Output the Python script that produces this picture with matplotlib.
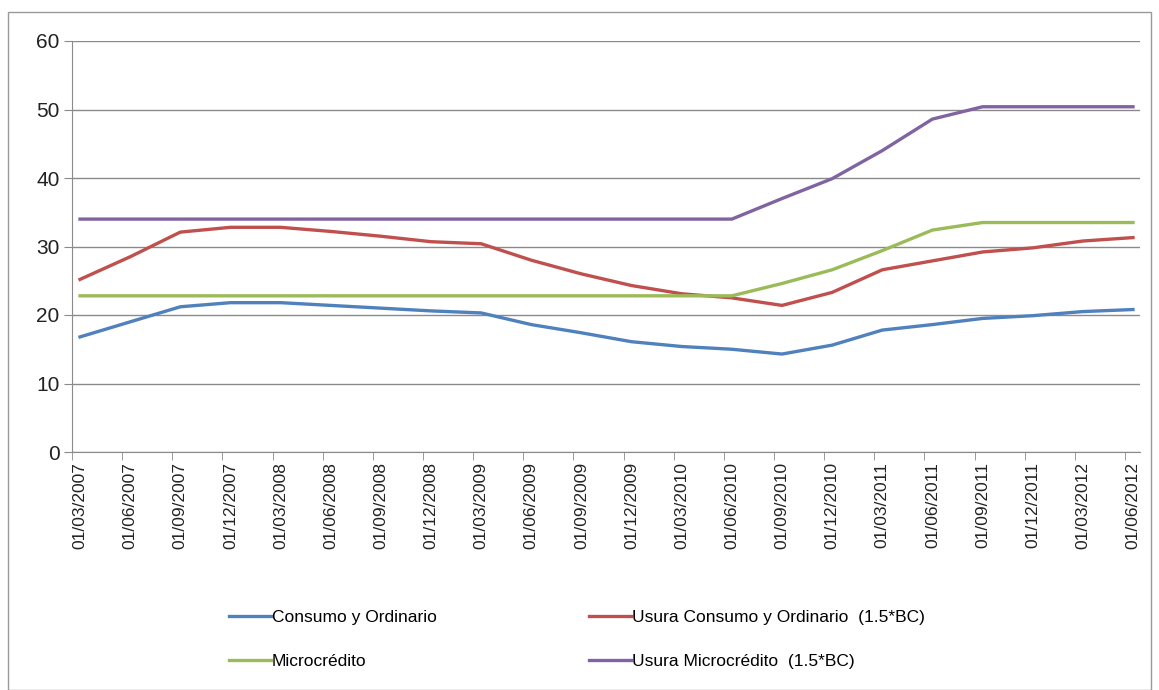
import matplotlib
matplotlib.use("Agg")
import matplotlib.pyplot as plt
from matplotlib.patches import Rectangle

plt.rcParams['font.family'] = ['Liberation Sans', 'DejaVu Sans']

fechas = ["01/03/2007", "01/06/2007", "01/09/2007", "01/12/2007",
          "01/03/2008", "01/06/2008", "01/09/2008", "01/12/2008",
          "01/03/2009", "01/06/2009", "01/09/2009", "01/12/2009",
          "01/03/2010", "01/06/2010", "01/09/2010", "01/12/2010",
          "01/03/2011", "01/06/2011", "01/09/2011", "01/12/2011",
          "01/03/2012", "01/06/2012"]

consumo = [16.8, 19.0, 21.2, 21.8, 21.8, 21.4, 21.0, 20.6, 20.3, 18.6, 17.4,
           16.1, 15.4, 15.0, 14.3, 15.6, 17.8, 18.6, 19.5, 19.9, 20.5, 20.8]
usura_consumo = [25.2, 28.5, 32.1, 32.8, 32.8, 32.2, 31.5, 30.7, 30.4, 28.0, 26.0,
                 24.3, 23.1, 22.5, 21.4, 23.3, 26.6, 27.9, 29.2, 29.8, 30.8, 31.3]
micro = [22.8, 22.8, 22.8, 22.8, 22.8, 22.8, 22.8, 22.8, 22.8, 22.8, 22.8,
         22.8, 22.8, 22.8, 24.6, 26.6, 29.4, 32.4, 33.5, 33.5, 33.5, 33.5]
usura_micro = [34.0, 34.0, 34.0, 34.0, 34.0, 34.0, 34.0, 34.0, 34.0, 34.0, 34.0,
               34.0, 34.0, 34.0, 37.0, 39.9, 44.0, 48.6, 50.4, 50.4, 50.4, 50.4]

x = list(range(len(fechas)))
# excel date axis: tick marks sit a little left of the points/labels
tick_off = 0.16
marks = [i - tick_off for i in x]

fig = plt.figure(figsize=(11.59, 6.9), dpi=100)
ax = fig.add_axes([72 / 1159, 1 - 452 / 690, (1140 - 72) / 1159, (452 - 41) / 690])

l1, = ax.plot(x, consumo, color='#4F81BD', lw=2.4, label='Consumo y Ordinario')
l2, = ax.plot(x, usura_consumo, color='#C0504D', lw=2.4, label='Usura Consumo y Ordinario  (1.5*BC)')
l3, = ax.plot(x, micro, color='#9BBB59', lw=2.4, label='Microcrédito')
l4, = ax.plot(x, usura_micro, color='#8064A2', lw=2.4, label='Usura Microcrédito  (1.5*BC)')

ax.set_ylim(0, 60)
ax.set_yticks(range(0, 61, 10))
ax.set_xlim(-tick_off, 21.14)
ax.set_xticks(x)
ax.set_xticklabels(fechas, rotation=90)
ax.set_xticks(marks, minor=True)
ax.yaxis.grid(True, color='#8a8a8a', lw=1)
ax.set_axisbelow(True)
for s in ['top', 'right']:
    ax.spines[s].set_visible(False)
ax.spines['left'].set_color('#8a8a8a')
ax.spines['bottom'].set_color('#8a8a8a')
ax.tick_params(axis='y', labelsize=15, color='#8a8a8a', length=6, pad=3, labelcolor='#222222')
ax.tick_params(axis='x', which='major', labelsize=12.5, length=0, pad=7, labelcolor='#222222')
ax.tick_params(axis='x', which='minor', color='#8a8a8a', length=6)

fig.legend([l1, l3, l2, l4], [l1.get_label(), l3.get_label(), l2.get_label(), l4.get_label()],
           ncol=2, loc='upper left', bbox_to_anchor=(229 / 1159, 1 - 610 / 690),
           frameon=False, fontsize=12.5, handlelength=2.4, handletextpad=0.05,
           columnspacing=8.8, labelspacing=1.65, borderpad=0, borderaxespad=0)

fig.patches.append(Rectangle((8 / 1159, 0), 1 - 16 / 1159, 1 - 12 / 690,
                             transform=fig.transFigure, fill=False,
                             edgecolor='#9a9a9a', lw=1))

fig.savefig('out.png', dpi=100)
